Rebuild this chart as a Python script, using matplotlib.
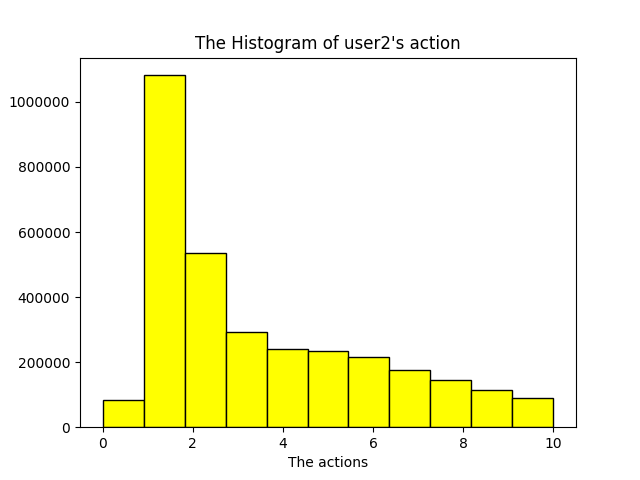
import numpy as np
import matplotlib
matplotlib.use('Agg')
import matplotlib.pyplot as plt

# counts per action bin
n_bins = 11
action_min, action_max = 0, 10
counts = [83000, 1082000, 535000, 292000, 240000, 234000, 215000, 175000, 145000, 114000, 89000]

edges = np.linspace(action_min, action_max, n_bins + 1)
centers = (edges[:-1] + edges[1:]) / 2

fig, ax = plt.subplots(figsize=(6.4, 4.8), dpi=100)
ax.hist(centers, bins=edges, weights=counts, color='yellow', edgecolor='black')
ax.ticklabel_format(axis='y', style='plain')
ax.set_title("The Histogram of user2's action")
ax.set_xlabel('The actions')
fig.savefig('out.png')
